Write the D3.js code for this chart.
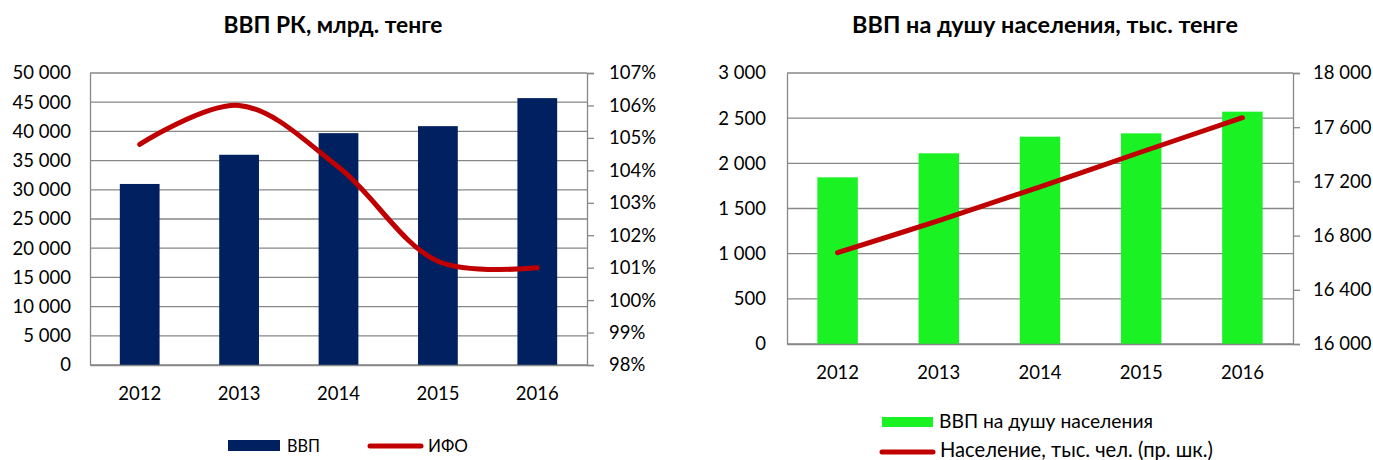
<!DOCTYPE html>
<html>
<head>
<meta charset="utf-8">
<script src="https://cdn.jsdelivr.net/npm/d3@7"></script>
<style>
  body { margin: 0; background: #fff; }
  svg { font-family: Lato, "Open Sans", sans-serif; }
  .tick text { font-size: 18.5px; fill: #000; }
  .grid line { stroke: #878787; stroke-width: 1.3; }
  .title { font-size: 22px; font-weight: bold; }
  .legend text { font-size: 19px; }
</style>
</head>
<body>
<svg id="chart" width="1373" height="460"></svg>
<script>
// данные
const years = ["2012", "2013", "2014", "2015", "2016"];
const vvp = [31000, 36000, 39700, 40900, 45700];
const ifo = [104.8, 106.0, 104.1, 101.2, 101.0];
const vvpPerCapita = [1845, 2111, 2295, 2332, 2572];
const population = [16674, 16911, 17160, 17417, 17670];
const leftTicks1 = d3.range(0, 50001, 5000);
const rightTicks1 = d3.range(98, 107.01, 1);
const leftTicks2 = d3.range(0, 3001, 500);
const rightTicks2 = d3.range(16000, 18001, 400);

const ru = d3.formatLocale({ decimal: ",", thousands: " ", grouping: [3], currency: ["", ""] });
const fmt = ru.format(",d");
const gray = "#878787";

const svg = d3.select("#chart");

// подгоняем размер шрифта под ширину текста на картинке
function fit(sel, width) {
    let size = parseFloat(getComputedStyle(sel.node()).fontSize);
    let len = sel.node().getComputedTextLength();
    sel.style("font-size", (size * width / len).toFixed(2) + "px");
    return sel;
}

function drawChart(cfg) {
    let g = svg.append("g");

    let x = d3.scaleBand().domain(years).range([cfg.x0, cfg.x1]).paddingInner(0.6).paddingOuter(0.3);
    let y = d3.scaleLinear().domain(cfg.yDomain).range([cfg.y1, cfg.y0]);
    let y2 = d3.scaleLinear().domain(cfg.y2Domain).range([cfg.y1, cfg.y0]);

    // сетка
    g.append("g").attr("class", "grid")
        .selectAll("line")
        .data(cfg.leftTicks)
        .enter()
        .append("line")
        .attr("x1", cfg.x0).attr("x2", cfg.x1)
        .attr("y1", (d) => y(d)).attr("y2", (d) => y(d));

    // столбцы
    g.append("g")
        .selectAll("rect")
        .data(cfg.bars)
        .enter()
        .append("rect")
        .attr("x", (d, i) => x(years[i]))
        .attr("width", x.bandwidth())
        .attr("y", (d) => y(d))
        .attr("height", (d) => y(0) - y(d))
        .attr("fill", cfg.barColor);

    // оси
    let axL = g.append("g")
        .attr("transform", `translate(${cfg.x0},0)`)
        .call(d3.axisLeft(y).tickValues(cfg.leftTicks).tickSize(0).tickPadding(cfg.padL).tickFormat(fmt));
    let axR = g.append("g")
        .attr("transform", `translate(${cfg.x1},0)`)
        .call(d3.axisRight(y2).tickValues(cfg.rightTicks).tickSize(7).tickPadding(cfg.padR).tickFormat(cfg.rightFormat));
    let axB = g.append("g")
        .attr("transform", `translate(0,${cfg.y1})`)
        .call(d3.axisBottom(x).tickSize(0).tickPadding(22));
    [axL, axR, axB].forEach((a) => {
        a.select(".domain").attr("stroke", gray).attr("stroke-width", 1.3);
        a.selectAll(".tick line").attr("stroke", gray).attr("stroke-width", 1.3);
        a.attr("font-family", null).attr("font-size", null);
    });

    // линия
    let line = d3.line()
        .x((d, i) => x(years[i]) + x.bandwidth() / 2)
        .y((d) => y2(d))
        .curve(d3.curveCatmullRom.alpha(0.5));
    g.append("path")
        .datum(cfg.line)
        .attr("d", line)
        .attr("fill", "none")
        .attr("stroke", "#c00000")
        .attr("stroke-width", 5)
        .attr("stroke-linecap", "round");

    // заголовок
    let t = g.append("text")
        .attr("class", "title")
        .attr("x", cfg.titleX).attr("y", 33)
        .attr("text-anchor", "middle")
        .text(cfg.title);
    fit(t, cfg.titleW);

    return g;
}

drawChart({
    x0: 90, x1: 587, y0: 73, y1: 365,
    yDomain: [0, 50000], y2Domain: [98, 107],
    leftTicks: leftTicks1, rightTicks: rightTicks1,
    rightFormat: (d) => d + "%",
    bars: vvp, line: ifo, barColor: "#002060",
    title: "ВВП РК, млрд. тенге", titleX: 333, titleW: 219,
    padL: 19, padR: 15
});

drawChart({
    x0: 787, x1: 1293, y0: 73, y1: 344,
    yDomain: [0, 3000], y2Domain: [16000, 18000],
    leftTicks: leftTicks2, rightTicks: rightTicks2,
    rightFormat: fmt,
    bars: vvpPerCapita, line: population, barColor: "#1af224",
    title: "ВВП на душу населения, тыс. тенге", titleX: 1045, titleW: 386,
    padL: 21, padR: 13
});

// легенды
let l1 = svg.append("g").attr("class", "legend");
l1.append("rect").attr("x", 228).attr("y", 440).attr("width", 52).attr("height", 11).attr("fill", "#002060");
fit(l1.append("text").attr("x", 287).attr("y", 452).text("ВВП"), 33);
l1.append("line").attr("x1", 370).attr("x2", 421).attr("y1", 446).attr("y2", 446)
    .attr("stroke", "#c00000").attr("stroke-width", 5).attr("stroke-linecap", "round");
fit(l1.append("text").attr("x", 428).attr("y", 452).text("ИФО"), 40);

let l2 = svg.append("g").attr("class", "legend");
l2.append("rect").attr("x", 882).attr("y", 417).attr("width", 51).attr("height", 10).attr("fill", "#1af224");
fit(l2.append("text").attr("x", 939).attr("y", 428).text("ВВП на душу населения"), 214);
l2.append("line").attr("x1", 882).attr("x2", 933).attr("y1", 452).attr("y2", 452)
    .attr("stroke", "#c00000").attr("stroke-width", 5).attr("stroke-linecap", "round");
fit(l2.append("text").attr("x", 940).attr("y", 457).text("Население, тыс. чел. (пр. шк.)"), 273);
</script>
</body>
</html>
